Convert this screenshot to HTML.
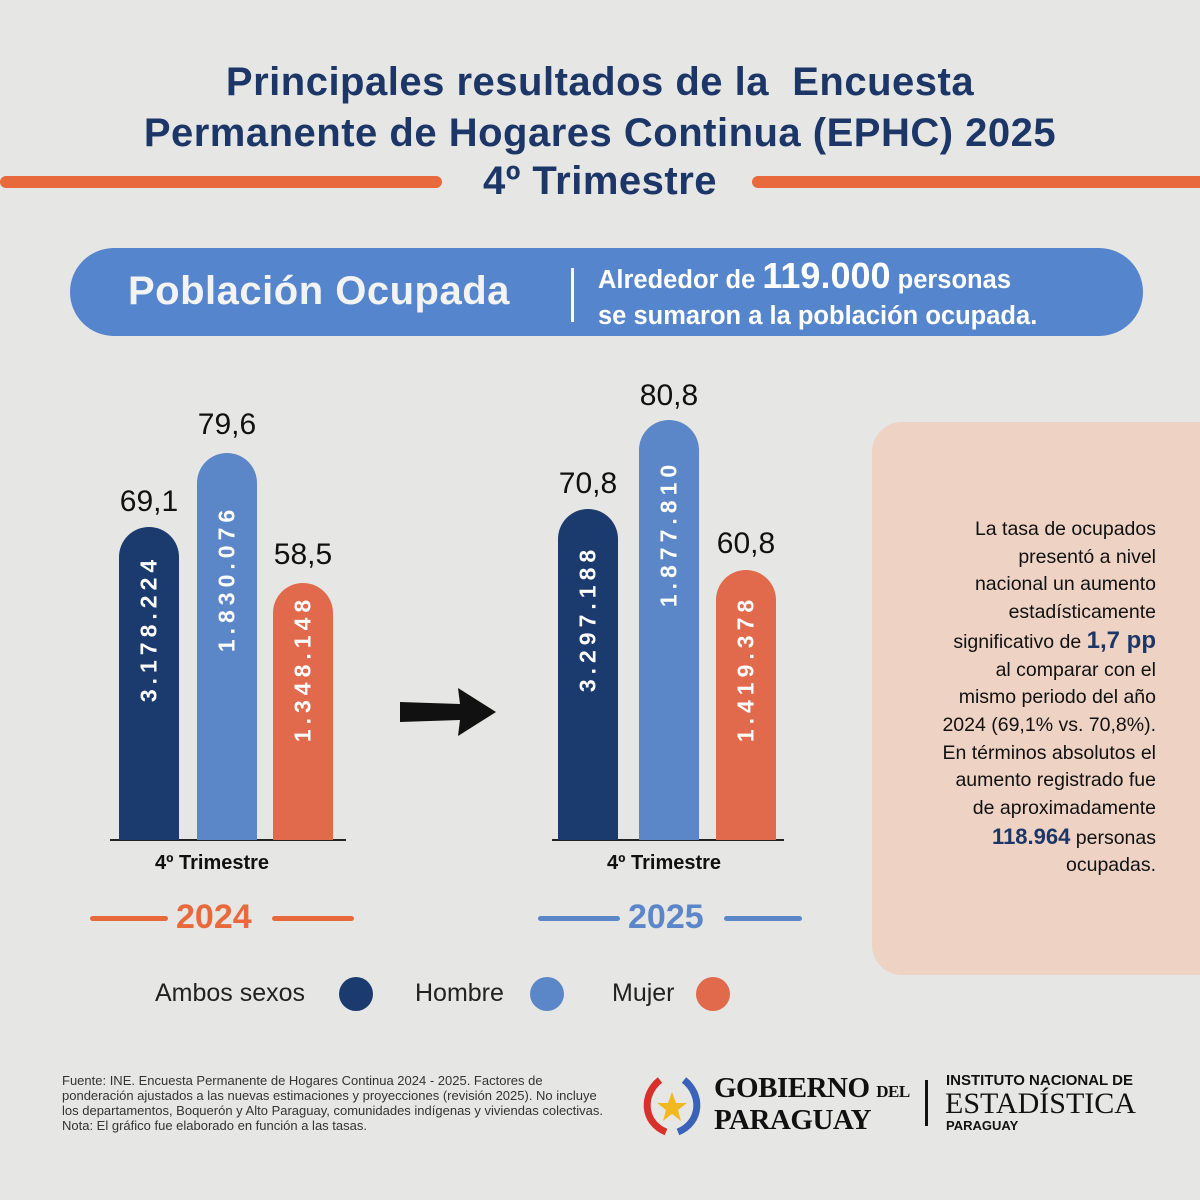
<!DOCTYPE html>
<html><head><meta charset="utf-8"><style>
*{margin:0;padding:0;box-sizing:border-box}
body{width:1200px;height:1200px;background:#e6e6e5;position:relative;overflow:hidden;font-family:"Liberation Sans",sans-serif}
.a{position:absolute}
.t{color:#1d3668;font-weight:bold;text-align:center;width:1200px;left:0;letter-spacing:0.5px}
.bar{position:absolute;border-radius:30px 30px 0 0;width:60px}
.vl{position:absolute;font-size:30px;color:#111;width:90px;text-align:center}
.in{position:absolute;color:#fff;font-weight:bold;font-size:23px;letter-spacing:5px;transform:rotate(-90deg);white-space:nowrap;width:220px;text-align:center}
.dot{position:absolute;width:34px;height:34px;border-radius:50%}
.lg{position:absolute;font-size:25px;color:#222}
</style></head><body>
<div class="a t" style="top:60px;font-size:40px">Principales resultados de la&nbsp; Encuesta</div>
<div class="a t" style="top:111px;font-size:40px">Permanente de Hogares Continua (EPHC) 2025</div>
<div class="a t" style="top:159px;font-size:40px">4º Trimestre</div>
<div class="a" style="left:0;top:176px;width:442px;height:12px;background:#e86a3c;border-radius:6px"></div>
<div class="a" style="left:752px;top:176px;width:460px;height:12px;background:#e86a3c;border-radius:6px"></div>
<div class="a" style="left:70px;top:248px;width:1073px;height:88px;background:#5585cc;border-radius:44px"></div>
<div class="a" style="left:128px;top:269px;font-size:40px;color:#f3f3f3;font-weight:bold;letter-spacing:0.5px">Población Ocupada</div>
<div class="a" style="left:571px;top:268px;width:3px;height:54px;background:#fff"></div>
<div class="a" style="left:598px;top:258px;font-size:25.5px;color:#fff;line-height:36px;font-weight:bold">Alrededor de <span style="font-size:36px">119.000</span> personas<br>se sumaron a la población ocupada.</div>

<div class="a" style="left:110px;top:839px;width:236px;height:2px;background:#222"></div>
<div class="a" style="left:552px;top:839px;width:232px;height:2px;background:#222"></div>

<div class="bar" style="left:119px;top:527px;height:313px;background:#1b3a6e"></div>
<div class="bar" style="left:197px;top:453px;height:387px;background:#5b87c8"></div>
<div class="bar" style="left:273px;top:583px;height:257px;background:#e06a4b"></div>
<div class="vl" style="left:104px;top:485px">69,1</div>
<div class="vl" style="left:182px;top:408px">79,6</div>
<div class="vl" style="left:258px;top:538px">58,5</div>
<div class="in" style="left:39px;top:615px">3.178.224</div>
<div class="in" style="left:117px;top:565px">1.830.076</div>
<div class="in" style="left:193px;top:655px">1.348.148</div>

<div class="bar" style="left:558px;top:509px;height:331px;background:#1b3a6e"></div>
<div class="bar" style="left:639px;top:420px;height:420px;background:#5b87c8"></div>
<div class="bar" style="left:716px;top:570px;height:270px;background:#e06a4b"></div>
<div class="vl" style="left:543px;top:467px">70,8</div>
<div class="vl" style="left:624px;top:379px">80,8</div>
<div class="vl" style="left:701px;top:527px">60,8</div>
<div class="in" style="left:478px;top:605px">3.297.188</div>
<div class="in" style="left:559px;top:520px">1.877.810</div>
<div class="in" style="left:636px;top:655px">1.419.378</div>

<svg class="a" style="left:398px;top:686px" width="100" height="52"><path d="M2 16 L62 18 L60 2 L98 26 L60 50 L62 34 L2 36 Z" fill="#111"/></svg>

<div class="a" style="left:155px;top:852px;font-size:20px;font-weight:bold;color:#111">4º Trimestre</div>
<div class="a" style="left:607px;top:852px;font-size:20px;font-weight:bold;color:#111">4º Trimestre</div>
<div class="a" style="left:90px;top:916px;width:78px;height:5px;background:#e86a3c;border-radius:3px"></div>
<div class="a" style="left:272px;top:916px;width:82px;height:5px;background:#e86a3c;border-radius:3px"></div>
<div class="a" style="left:176px;top:898px;font-size:34px;font-weight:bold;color:#e86a3c">2024</div>
<div class="a" style="left:538px;top:916px;width:82px;height:5px;background:#5b87c8;border-radius:3px"></div>
<div class="a" style="left:724px;top:916px;width:78px;height:5px;background:#5b87c8;border-radius:3px"></div>
<div class="a" style="left:628px;top:898px;font-size:34px;font-weight:bold;color:#5b87c8">2025</div>

<div class="lg" style="left:155px;top:979px">Ambos sexos</div><div class="dot" style="left:339px;top:977px;background:#1b3a6e"></div>
<div class="lg" style="left:415px;top:979px">Hombre</div><div class="dot" style="left:530px;top:977px;background:#5b87c8"></div>
<div class="lg" style="left:612px;top:979px">Mujer</div><div class="dot" style="left:696px;top:977px;background:#e06a4b"></div>

<div class="a" style="left:872px;top:422px;width:340px;height:553px;background:#eed3c4;border-radius:30px 0 0 30px"></div>
<div class="a" style="left:856px;top:516px;width:300px;text-align:right;font-size:19.5px;line-height:27.7px;color:#111;white-space:nowrap">La tasa de ocupados<br>presentó a nivel<br>nacional un aumento<br>estadísticamente<br>significativo de <b style="color:#1d3668;font-size:24px">1,7 pp</b><br>al comparar con el<br>mismo periodo del año<br>2024 (69,1% vs. 70,8%).<br>En términos absolutos el<br>aumento registrado fue<br>de aproximadamente<br><b style="color:#1d3668;font-size:22px">118.964</b> personas<br>ocupadas.</div>

<div class="a" style="left:62px;top:1073px;width:550px;font-size:13px;line-height:15px;color:#333">Fuente: INE. Encuesta Permanente de Hogares Continua 2024 - 2025. Factores de ponderación ajustados a las nuevas estimaciones y proyecciones (revisión 2025). No incluye los departamentos, Boquerón y Alto Paraguay, comunidades indígenas y viviendas colectivas.<br>Nota: El gráfico fue elaborado en función a las tasas.</div>

<svg class="a" style="left:638px;top:1074px" width="70" height="64"><path d="M22 6 C4 20 4 48 28 58" stroke="#d8302a" stroke-width="7" fill="none"/><path d="M46 6 C64 20 64 48 40 58" stroke="#3a62b8" stroke-width="7" fill="none"/><polygon points="34,18 38,29 49,29 40,36 43,47 34,40 25,47 28,36 19,29 30,29" fill="#f2b820"/></svg>
<div class="a" style="left:714px;top:1074px;font-family:'Liberation Serif',serif;font-weight:bold;font-size:29px;color:#111;line-height:28px;letter-spacing:-0.5px">GOBIERNO <span style="font-size:17px">DEL</span><br>PARAGUAY</div>
<div class="a" style="left:925px;top:1080px;width:3px;height:46px;background:#111"></div>
<div class="a" style="left:946px;top:1072px;font-size:15px;font-weight:bold;color:#111">INSTITUTO NACIONAL DE</div>
<div class="a" style="left:945px;top:1087px;font-family:'Liberation Serif',serif;font-size:30px;color:#111">ESTADÍSTICA</div>
<div class="a" style="left:946px;top:1118px;font-size:13px;font-weight:bold;color:#111">PARAGUAY</div>
</body></html>
